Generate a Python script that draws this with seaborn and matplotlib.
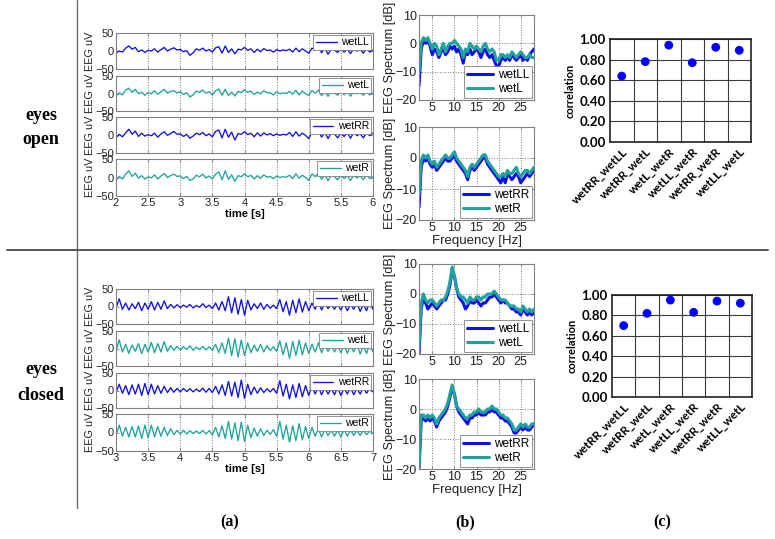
import numpy as np
import matplotlib
matplotlib.use("Agg")
import matplotlib.pyplot as plt
from matplotlib.lines import Line2D
import seaborn as sns

# ---------------- data ----------------
channels = ["wetLL", "wetL", "wetRR", "wetR"]
t_open_start, t_closed_start, t_step = 2.0, 3.0, 0.05

open_wetLL = [-5, 0, -3, 8, 14, 5, 10, -2, 3, -4, 2, 0, 6, -3, 4, 10, 0, 5, 9, 3,
              4, -2, 1, -12, -5, 6, 2, 8, 0, 4, -3, 9, 12, -6, 14, -4, 6, -8, 5, 3,
              10, 2, 6, -4, 5, -2, 7, 1, 3, -3, 4, 0, 3, 1, 5, -3, 8, -2, 6, 0,
              -6, 8, 2, 12, -5, 8, -9, 5, 2, -4, 6, -3, 5, -7, 6, 0, 4, -6, 7, -3, 2]
open_wetL = [-6, 2, -4, 10, 15, 3, 12, -1, 4, -5, 3, -1, 8, -2, 5, 12, 1, 6, 8, 2,
             5, -3, 2, -10, -4, 7, 3, 10, 1, 5, -4, 8, 13, -5, 12, -6, 4, -7, 6, 2,
             11, 3, 7, -3, 4, -1, 8, 2, 2, -4, 5, -1, 2, 0, 6, -2, 9, -4, 7, -1,
             -5, 9, 1, 10, -6, 7, -8, 6, 1, -5, 7, -4, 6, -8, 5, -1, 3, -5, 6, -4, 1]
open_wetRR = [-8, 2, -5, 6, 16, 2, 11, -4, 5, -3, 1, -2, 5, -6, 3, 9, -1, 4, 10, 2,
              3, -4, 2, -9, -3, 5, 1, 7, -2, 3, -5, 10, 14, -8, 16, -6, 8, -14, 4, 2,
              9, 1, 5, -5, 6, -3, 6, 0, 4, -2, 3, -1, 2, 0, 7, -4, 9, -3, 5, -1,
              -10, 9, 3, 11, -6, 7, -10, 6, 3, -8, 5, -4, 6, -9, 7, -2, 3, -8, 6, -2, 5]
open_wetR = [-7, 3, -4, 9, 18, 3, 12, -2, 5, -4, 2, -1, 7, -4, 4, 11, 0, 5, 9, 3,
             4, -3, 3, -8, -4, 6, 2, 9, -1, 4, -4, 9, 15, -6, 18, -5, 7, -10, 5, 2,
             10, 2, 6, -4, 5, -2, 7, 1, 3, -3, 4, 0, 2, 1, 6, -3, 10, -2, 6, 0,
             -8, 10, 2, 12, -5, 8, -9, 6, 2, -6, 6, -3, 5, -8, 6, -1, 4, -6, 7, -3, 2]

closed_wetLL = [-5, 22, -8, 10, -10, 8, -6, 12, -12, 10, -8, 14, -10, 12, -8, 16, -6, 6, -4, 5,
                -3, 4, -2, 6, -4, 3, -2, 8, -3, 4, -6, 10, -10, 14, -12, 28, -18, 25, -22, 20,
                -25, 18, -10, 8, -6, 10, -8, 6, -5, 4, -6, 20, -15, 14, -25, 18, -18, 22, -16, 14,
                -12, 10, -8, 14, -10, 8, -6, 5, -8, 6, -10, 8, -12, 6, -8, 10, -14, 6, -12, 15, -8]
closed_wetL = [-8, 25, -10, 12, -14, 10, -8, 14, -15, 12, -10, 18, -12, 14, -10, 20, -8, 8, -5, 6,
               -4, 5, -3, 8, -5, 4, -3, 6, -4, 5, -5, 12, -12, 16, -14, 30, -20, 28, -24, 24,
               -20, 16, -12, 10, -8, 12, -10, 8, -6, 5, -8, 22, -18, 16, -28, 20, -20, 24, -18, 16,
               -14, 12, -10, 16, -12, 10, -8, 6, -10, 8, -12, 10, -14, 8, -10, 12, -16, 8, -14, 14, -10]
closed_wetRR = [-6, 18, -8, 14, -12, 16, -10, 18, -14, 20, -12, 18, -10, 14, -8, 12, -6, 8, -5, 6,
                -4, 6, -3, 5, -4, 4, -3, 7, -5, 6, -6, 12, -10, 16, -14, 26, -16, 24, -20, 30,
                -22, 18, -12, 10, -8, 8, -6, 5, -4, 6, -8, 28, -16, 18, -24, 16, -20, 20, -18, 14,
                -14, 12, -10, 10, -12, 8, -10, 6, -12, 8, -14, 6, -10, 8, -12, 6, -10, 8, -8, 6, -4]
closed_wetR = [-8, 20, -10, 14, -12, 16, -12, 18, -16, 20, -14, 20, -12, 16, -10, 14, -8, 10, -6, 6,
               -4, 6, -4, 5, -3, 4, -3, 6, -4, 5, -6, 14, -12, 18, -16, 30, -18, 26, -22, 28,
               -24, 20, -14, 12, -10, 10, -8, 6, -5, 8, -10, 30, -18, 20, -26, 18, -22, 24, -20, 16,
               -16, 14, -10, 10, -12, 8, -8, 6, -10, 6, -12, 8, -10, 6, -8, 5, -8, 6, -6, 4, -3]

f_start, f_step = 2.0, 0.5
spec_open_wetLL = [-15, -2, 1, 0, 1, -1, -4, -2, -3, -5, -3, -2, -4, -3, -1, -2, -1, -3, -2, -4,
                   -7, -3, -4, -2, -4, -3, -2, -3, -5, -3, -2, -4, -5, -4, -6, -8, -8, -6, -5, -6,
                   -5, -6, -4, -5, -6, -5, -4, -6, -5, -6, -4, -3, -2]
spec_open_wetL = [-10, 0, 2, 1, 2, 0, -2, 0, -1, -4, -2, 0, -3, -1, 0, 0, 1, 0, -1, -2,
                  -5, -2, -3, 0, -1, -2, -1, -2, -3, -1, 0, -2, -3, -2, -3, -6, -6, -4, -4, -5,
                  -4, -5, -3, -4, -5, -4, -3, -4, -5, -5, -4, -5, -5]
spec_open_wetRR = [-16, -3, 0, -1, 0, -2, -3, -2, -4, -3, -2, -1, 0, -1, -1, 0, 1, -1, -2, -3,
                   -4, -5, -7, -4, -3, -4, -3, -2, -1, 0, 0, -2, -3, -4, -5, -6, -7, -8, -6, -8,
                   -5, -6, -7, -6, -5, -6, -8, -7, -6, -5, -6, -5, -4]
spec_open_wetR = [-12, -1, 1, 0, 1, -1, -2, -1, -3, -2, -1, 0, 1, 0, 0, 1, 2, 0, -1, -2,
                  -3, -4, -6, -3, -2, -3, -2, -1, 0, 1, 1, -1, -2, -3, -4, -5, -6, -6, -5, -6,
                  -4, -5, -5, -4, -3, -5, -6, -5, -4, -4, -5, -4, -3]
spec_closed_wetLL = [-20, -5, -1, -3, -5, -4, -3, -4, -5, -4, -3, -2, -2, 0, 3, 8, 6, 2, -1, -2,
                     -3, -5, -4, -2, -3, -3, -2, -3, -4, -3, -3, -2, -1, -1, 0, -1, -2, -3, -2, -3,
                     -3, -4, -5, -5, -6, -6, -7, -5, -6, -7, -6, -7, -6]
spec_closed_wetL = [-18, -3, 0, -2, -3, -2, -2, -3, -4, -3, -2, -2, -1, 1, 4, 9, 6, 2, 0, -1,
                    -1, -2, -3, -1, -2, -2, -1, -1, -2, -1, -1, 0, 0, 0, 1, 0, -1, -2, -2, -2,
                    -3, -4, -4, -4, -5, -5, -6, -4, -5, -6, -5, -6, -5]
spec_closed_wetRR = [-20, -4, -3, -4, -3, -4, -3, -4, -6, -4, -3, -2, -1, 1, 4, 7, 5, 1, -1, -2,
                     -3, -4, -5, -3, -3, -2, -2, -1, -2, -2, -2, -1, -1, 0, -1, -1, -2, -3, -3, -4,
                     -4, -5, -6, -8, -8, -7, -6, -7, -6, -7, -7, -6, -5]
spec_closed_wetR = [-19, -2, -2, -3, -2, -3, -2, -3, -5, -3, -2, -1, 0, 2, 5, 8, 5, 1, 0, -1,
                    -2, -3, -3, -2, -2, -1, -1, 0, -1, -1, -1, 0, 0, 1, 0, 0, -1, -2, -2, -3,
                    -3, -4, -5, -7, -7, -6, -5, -6, -5, -6, -6, -5, -5]

pairs = ["wetRR_wetLL", "wetRR_wetL", "wetL_wetR", "wetLL_wetR", "wetRR_wetR", "wetLL_wetL"]
corr_open = [0.64, 0.78, 0.94, 0.77, 0.92, 0.89]
corr_closed = [0.70, 0.82, 0.95, 0.83, 0.94, 0.92]

# ---------------- style ----------------
BLUE = "#1010e6"
TEAL = "#1fa39b"
colors = {"wetLL": BLUE, "wetL": TEAL, "wetRR": BLUE, "wetR": TEAL}
W, H = 775, 539
sns.set_style("white")
plt.rcParams["font.family"] = ["Liberation Sans", "DejaVu Sans"]
for k in ["text.color", "axes.labelcolor", "xtick.color", "ytick.color"]:
    plt.rcParams[k] = "black"

fig = plt.figure(figsize=(W / 100, H / 100), dpi=100)


def rect(x0, y0, x1, y1):
    return [x0 / W, 1 - y1 / H, (x1 - x0) / W, (y1 - y0) / H]


def matlab_style(ax, size=7.5):
    for s in ax.spines.values():
        s.set_visible(True)
        s.set_color("#808080")
        s.set_linewidth(0.8)
    ax.tick_params(direction="in", length=2.5, width=0.6, color="#808080",
                   labelcolor="#222222", labelsize=size, pad=1.5,
                   top=True, right=True, bottom=True, left=True)


def time_panel(rows, t0, series):
    for i, ((y0, y1), ch) in enumerate(zip(rows, channels)):
        ax = fig.add_axes(rect(116, y0, 373, y1))
        vals = series[ch]
        t = t0 + t_step * np.arange(len(vals))
        sns.lineplot(x=t, y=vals, ax=ax, color=colors[ch], linewidth=0.95,
                     label=ch, estimator=None, sort=False)
        ax.set_xlim(t0, t0 + 4)
        ax.set_ylim(-50, 50)
        ax.set_yticks([-50, 0, 50])
        xt = np.arange(t0, t0 + 4.01, 0.5)
        ax.set_xticks(xt)
        matlab_style(ax, 8)
        ax.grid(True, axis="x", linestyle=":", color="#7a7a7a", linewidth=0.7)
        ax.grid(False, axis="y")
        ax.set_ylabel("EEG uV", fontsize=7.8, labelpad=0, color="#222222")
        if i == 3:
            ax.set_xticklabels([f"{v:g}" for v in xt])
            ax.set_xlabel("time [s]", fontsize=8, fontweight="bold", labelpad=1)
        else:
            ax.set_xticklabels([])
            ax.set_xlabel("")
        leg = ax.legend(loc="upper right", fontsize=7.5, handlelength=2.0,
                        handletextpad=0.4, borderpad=0.25, borderaxespad=0.15,
                        frameon=True, fancybox=False, framealpha=1)
        leg.get_frame().set_edgecolor("#808080")
        leg.get_frame().set_linewidth(0.6)


def spec_panel(boxes, pairs_spec):
    for k, ((y0, y1), (names, vals_pair)) in enumerate(zip(boxes, pairs_spec)):
        ax = fig.add_axes(rect(419, y0, 534, y1))
        for nm, vals in zip(names, vals_pair):
            f = f_start + f_step * np.arange(len(vals))
            sns.lineplot(x=f, y=vals, ax=ax, color=colors[nm], linewidth=2.2,
                         label=nm, estimator=None, sort=False)
        ax.set_xlim(2, 28)
        ax.set_ylim(-20, 10)
        ax.set_xticks([5, 10, 15, 20, 25])
        ax.set_yticks([-20, -10, 0, 10])
        matlab_style(ax, 9)
        ax.grid(True, linestyle=":", color="#7a7a7a", linewidth=0.7)
        ax.set_ylabel("EEG Spectrum [dB]", fontsize=9.2, labelpad=0, color="#222222")
        if k == 1:
            ax.set_xlabel("Frequency [Hz]", fontsize=9.5, labelpad=1, color="#222222")
        else:
            ax.set_xlabel("")
        leg = ax.legend(loc="lower right", fontsize=8.5, handlelength=2.2,
                        handletextpad=0.4, borderpad=0.25, borderaxespad=0.15,
                        labelspacing=0.2, frameon=True, fancybox=False, framealpha=1)
        leg.get_frame().set_edgecolor("#808080")
        leg.get_frame().set_linewidth(0.6)


def corr_panel(x0, y0, x1, y1, corr):
    ax = fig.add_axes(rect(x0, y0, x1, y1))
    pos = np.arange(len(pairs))
    sns.scatterplot(x=pos, y=corr, ax=ax, color="#0000ff", s=40,
                    edgecolor="none", zorder=3)
    ax.set_xlim(-0.5, len(pairs) - 0.5)
    ax.set_ylim(0, 1)
    ax.set_yticks(np.arange(0, 1.01, 0.2))
    ax.set_yticklabels([f"{v:.2f}" for v in np.arange(0, 1.01, 0.2)],
                       fontsize=9.5, fontweight="bold", family="Lato")
    ax.set_xticks(pos)
    ax.set_xticklabels(pairs, rotation=45, ha="right", rotation_mode="anchor",
                       fontsize=8.5, fontweight="bold", family="Lato")
    ax.set_xticks(pos[:-1] + 0.5, minor=True)
    ax.tick_params(which="both", length=0, pad=3)
    ax.grid(False)
    ax.grid(True, which="major", axis="y", color="#3a3a3a", linewidth=0.8)
    ax.grid(True, which="minor", axis="x", color="#3a3a3a", linewidth=0.8)
    for s in ax.spines.values():
        s.set_visible(True)
        s.set_color("#222222")
        s.set_linewidth(1.2)
    ax.set_ylabel("correlation", fontsize=8, fontweight="bold", family="Lato", labelpad=3)


open_series = dict(zip(channels, [open_wetLL, open_wetL, open_wetRR, open_wetR]))
closed_series = dict(zip(channels, [closed_wetLL, closed_wetL, closed_wetRR, closed_wetR]))

time_panel([(33, 69), (76, 111), (117, 153), (159, 196)], t_open_start, open_series)
time_panel([(289, 324), (331, 366), (373, 408), (414, 451)], t_closed_start, closed_series)

spec_panel([(15, 100), (127, 220)],
           [(("wetLL", "wetL"), (spec_open_wetLL, spec_open_wetL)),
            (("wetRR", "wetR"), (spec_open_wetRR, spec_open_wetR))])
spec_panel([(264, 354), (379, 469)],
           [(("wetLL", "wetL"), (spec_closed_wetLL, spec_closed_wetL)),
            (("wetRR", "wetR"), (spec_closed_wetRR, spec_closed_wetR))])

corr_panel(610, 39, 751, 142, corr_open)
corr_panel(612, 295, 752, 397, corr_closed)

# frame lines
fig.add_artist(Line2D([77 / W, 77 / W], [1, 1 - 508 / H], transform=fig.transFigure,
                      color="#6a6a6a", linewidth=1.0))
fig.add_artist(Line2D([7 / W, 768 / W], [1 - 250 / H, 1 - 250 / H], transform=fig.transFigure,
                      color="#555555", linewidth=1.4))

serif = ["Liberation Serif", "DejaVu Serif"]
for txt, y in [("eyes", 115), ("open", 140), ("eyes", 370), ("closed", 395)]:
    fig.text(41 / W, 1 - y / H, txt, ha="center", va="center", fontsize=13,
             fontweight="bold", family=serif)
for txt, x in [("(a)", 230), ("(b)", 465), ("(c)", 662)]:
    fig.text(x / W, 1 - 522 / H, txt, ha="center", va="center", fontsize=11.5,
             fontweight="bold", family=serif)

fig.savefig("out.png", dpi=100)
